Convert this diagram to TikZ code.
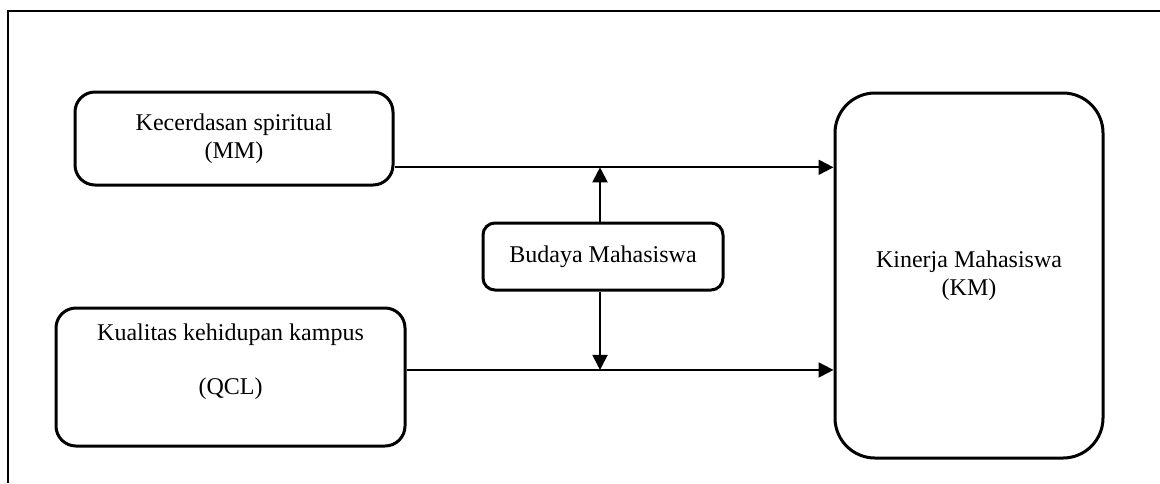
\documentclass[tikz,border=0pt]{standalone}
\usepackage{fontspec}
\setmainfont{Liberation Serif}
\usepackage{tikz}
\usetikzlibrary{positioning, arrows.meta, calc}
\tikzset{
  varbox/.style={draw=black, line width=1.5pt, rounded corners=10pt,
                 align=center, inner sep=0pt},
  panah/.style={line width=1pt, -{Triangle[length=7.5pt, width=7.5pt]}}
}

\begin{document}
\begin{tikzpicture}[x=0.5pt, y=-0.5pt, font=\fontsize{12}{14}\selectfont]
    \useasboundingbox (0,0) rectangle (1160,483);
    % bingkai
    \draw[line width=0.75pt] (8,483) -- (8,11) -- (1160,11);

    \node[varbox, minimum width=159pt, minimum height=46.5pt] (mm) at (234,138.5)
          {Kecerdasan spiritual\\(MM)};
    \node[varbox, minimum width=174.5pt, minimum height=69pt] (qcl) at (230.5,377)
          {Kualitas kehidupan kampus\\[13pt](QCL)\\[4pt]};
    \node[varbox, rounded corners=20pt, minimum width=134pt, minimum height=182.5pt]
          (km) at (969,275.5) {Kinerja Mahasiswa\\(KM)};
    \node[varbox, rounded corners=6pt, minimum width=120pt, minimum height=33.5pt]
          (bud) at (603,256.5) {Budaya Mahasiswa};

    \coordinate (t1) at ($(mm.south east)!0.2!(mm.north east)$);
    \coordinate (t2) at ($(qcl.south east)!0.55!(qcl.north east)$);
    \draw[panah] (t1) -- (t1 -| km.west);
    \draw[panah] (t2) -- (t2 -| km.west);
    \draw[panah] ([xshift=-1.5pt]bud.north) -- ([xshift=-1.5pt]bud.north |- t1);
    \draw[panah] ([xshift=-1.5pt]bud.south) -- ([xshift=-1.5pt]bud.south |- t2);
  \end{tikzpicture}
\end{document}
